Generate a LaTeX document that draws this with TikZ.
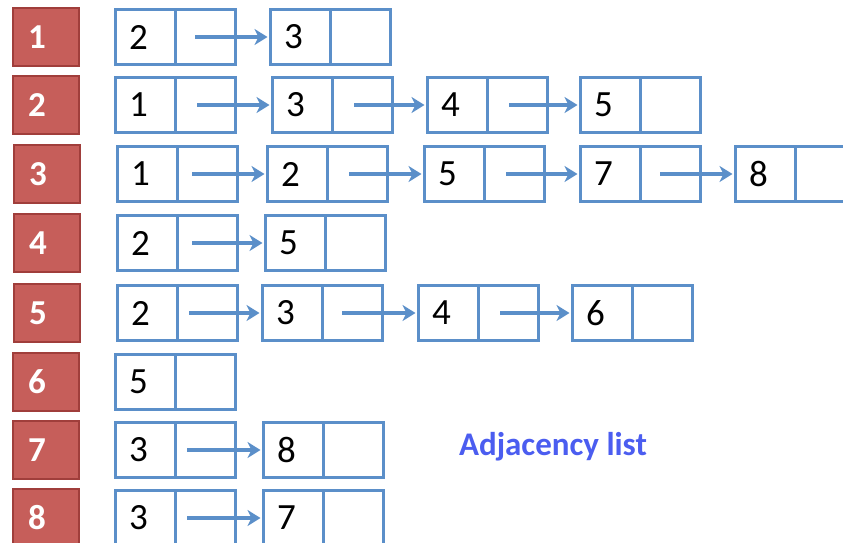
\documentclass[tikz,border=0pt]{standalone}
\usepackage{fontspec}
\setmainfont{Carlito}
\usetikzlibrary{arrows.meta}
\definecolor{cellblue}{HTML}{5B8FC9}
\definecolor{headred}{HTML}{C65E5A}
\definecolor{headedge}{HTML}{A03E3B}
\definecolor{titleblue}{HTML}{4B5DF0}

\tikzset{
  head/.style={draw=headedge, fill=headred, line width=1.5pt, minimum width=66pt, minimum height=58pt, text width=36pt, inner xsep=15pt, align=left, text=white, font=\fontsize{35}{35}\selectfont\bfseries},
  entry/.style={draw=cellblue, line width=3pt, minimum width=120pt, minimum height=55pt, text width=92pt, inner xsep=14pt, align=left, font=\fontsize{37}{37}\selectfont,
    path picture={\draw[cellblue, line width=3pt] (path picture bounding box.north) -- (path picture bounding box.south);}},
  link/.style={-{Stealth[length=13pt, width=16pt, inset=4pt]}, cellblue, line width=3.5pt, shorten >=1pt},
}

\begin{document}
\begin{tikzpicture}[x=1pt, y=-1pt]
  \useasboundingbox (0,0) rectangle (843,542);
  % vertex heads
  \node[head] (h1) at (46,37) {1};
  \node[head] (h2) at (46,105) {2};
  \node[head] (h3) at (47,174) {3};
  \node[head] (h4) at (47,243) {4};
  \node[head] (h5) at (47,313) {5};
  \node[head] (h6) at (46,382) {6};
  \node[head] (h7) at (46,450) {7};
  \node[head] (h8) at (46,518) {8};

  % list entries
  \node[entry] (c11) at (175,37) {2};
  \node[entry] (c12) at (330,37) {3};

  \node[entry] (c21) at (175,105) {1};
  \node[entry] (c22) at (332,105) {3};
  \node[entry] (c23) at (487,105) {4};
  \node[entry] (c24) at (640,105) {5};

  \node[entry] (c31) at (177,174) {1};
  \node[entry] (c32) at (327,174) {2};
  \node[entry] (c33) at (484,174) {5};
  \node[entry] (c34) at (640,174) {7};
  \node[entry] (c35) at (795,174) {8};

  \node[entry] (c41) at (177,243) {2};
  \node[entry] (c42) at (325,243) {5};

  \node[entry] (c51) at (177,313) {2};
  \node[entry] (c52) at (322,313) {3};
  \node[entry] (c53) at (478,313) {4};
  \node[entry] (c54) at (632,313) {6};

  \node[entry] (c61) at (175,382) {5};

  \node[entry] (c71) at (175,450) {3};
  \node[entry] (c72) at (323,450) {8};

  \node[entry] (c81) at (175,518) {3};
  \node[entry] (c82) at (323,518) {7};

  % next pointers
  \draw[link] ([xshift=20pt]c11.center) -- (c12.west);
  \draw[link] ([xshift=22pt]c21.center) -- (c22.west);
  \draw[link] ([xshift=22pt]c22.center) -- (c23.west);
  \draw[link] ([xshift=22pt]c23.center) -- (c24.west);
  \draw[link] ([xshift=15pt]c31.center) -- (c32.west);
  \draw[link] ([xshift=22pt]c32.center) -- (c33.west);
  \draw[link] ([xshift=22pt]c33.center) -- (c34.west);
  \draw[link] ([xshift=20pt]c34.center) -- (c35.west);
  \draw[link] ([xshift=15pt]c41.center) -- (c42.west);
  \draw[link] ([xshift=12pt]c51.center) -- (c52.west);
  \draw[link] ([xshift=20pt]c52.center) -- (c53.west);
  \draw[link] ([xshift=22pt]c53.center) -- (c54.west);
  \draw[link] ([xshift=12pt]c71.center) -- (c72.west);
  \draw[link] ([xshift=12pt]c81.center) -- (c82.west);

  \node[text=titleblue, font=\fontsize{33}{33}\selectfont\bfseries] (title) at (553,447) {Adjacency list};
\end{tikzpicture}
\end{document}
